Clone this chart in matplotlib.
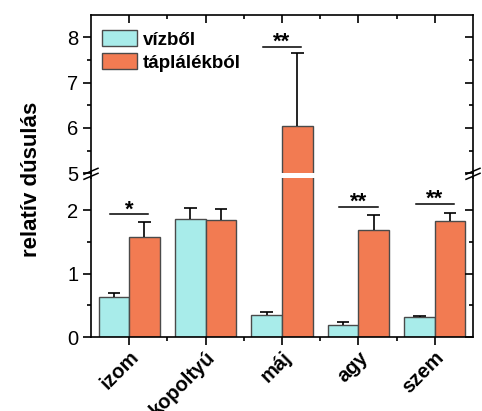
import matplotlib
matplotlib.use("Agg")
import matplotlib.pyplot as plt
import matplotlib.transforms as mtransforms
import numpy as np
from matplotlib.patches import Patch

plt.rcParams["font.family"] = ["Liberation Sans", "DejaVu Sans"]

tissues = ["izom", "kopoltyú", "máj", "agy", "szem"]
water_mean = [0.63, 1.86, 0.34, 0.185, 0.32]
water_err = [0.06, 0.18, 0.05, 0.055, 0.015]
food_mean = [1.575, 1.84, 6.05, 1.69, 1.82]
food_err = [0.23, 0.18, 1.61, 0.23, 0.13]

# significance markers: tissue index, bracket height, label
sig_idx = [0, 2, 3, 4]
sig_y = [1.93, 7.79, 2.05, 2.10]
sig_txt = ["*", "**", "**", "**"]

C_WATER = "#a8ecea"
C_FOOD = "#f27b52"
EDGE = "#4a4a4a"
LW = 1.2

W, H = 482, 411
fig = plt.figure(figsize=(W / 100, H / 100), dpi=100)
left, right = 91 / W, 473 / W
ax_hi = fig.add_axes([left, 1 - 173.3 / H, right - left, (173.3 - 15) / H])
ax_lo = fig.add_axes([left, 1 - 337 / H, right - left, (337 - 178.3) / H])

x = np.arange(1, len(tissues) + 1)
bw = 0.4
cap = 0.083
for ax in (ax_hi, ax_lo):
    ax.bar(x - bw / 2, water_mean, bw, color=C_WATER, edgecolor=EDGE, lw=1.0, zorder=2)
    ax.bar(x + bw / 2, food_mean, bw, color=C_FOOD, edgecolor=EDGE, lw=1.0, zorder=2)
    # upper error bars only
    for xs, m, e in ((x - bw / 2, water_mean, water_err), (x + bw / 2, food_mean, food_err)):
        m, e = np.asarray(m), np.asarray(e)
        ax.vlines(xs, m, m + e, color="k", lw=1.2, zorder=3)
        ax.hlines(m + e, xs - cap, xs + cap, color="k", lw=1.2, zorder=3)
    ax.set_xlim(0.5, 5.5)
    for s in ax.spines.values():
        s.set_linewidth(LW)
    ax.set_xticks(x)
    ax.set_xticks(x[:-1] + 0.5, minor=True)

ax_hi.set_ylim(5, 8.49)
ax_lo.set_ylim(0, 2.5)
hi_major, hi_minor = [5, 6, 7, 8], [5.5, 6.5, 7.5]
lo_major, lo_minor = [0, 1, 2], [0.5, 1.5]

for ax, major, minor in ((ax_hi, hi_major, hi_minor), (ax_lo, lo_major, lo_minor)):
    ax.set_yticks(major)
    ax.set_yticks(minor, minor=True)
    ax.tick_params(axis="y", which="both", direction="out", width=LW, labelsize=14.5, pad=3)
    ax.tick_params(axis="y", which="major", length=6)
    ax.tick_params(axis="y", which="minor", length=3)
    # inward ticks on the right side
    tw = ax.twinx()
    tw.set_ylim(ax.get_ylim())
    tw.set_yticks(major)
    tw.set_yticks(minor, minor=True)
    tw.tick_params(axis="y", which="both", direction="in", width=LW, labelright=False)
    tw.tick_params(axis="y", which="major", length=6)
    tw.tick_params(axis="y", which="minor", length=3)
    for s in tw.spines.values():
        s.set_visible(False)

ax_hi.spines["bottom"].set_visible(False)
ax_lo.spines["top"].set_visible(False)
ax_hi.tick_params(axis="x", which="both", bottom=False, labelbottom=False,
                  top=True, direction="in", width=LW)
ax_hi.tick_params(axis="x", which="major", length=6)
ax_hi.tick_params(axis="x", which="minor", length=3)
ax_lo.tick_params(axis="x", which="both", top=False, direction="out", width=LW)
ax_lo.tick_params(axis="x", which="major", length=6, pad=2)
ax_lo.tick_params(axis="x", which="minor", length=3)
ax_lo.set_xticklabels(tissues, rotation=45, ha="right", va="top",
                      rotation_mode="anchor", fontsize=14.5, fontweight="bold")
shift = mtransforms.ScaledTranslation(0, 0.5 / 100, fig.dpi_scale_trans)
for lab in ax_lo.get_xticklabels():
    lab.set_transform(lab.get_transform() + shift)

# significance brackets
star_off = mtransforms.ScaledTranslation(0, -1 / 100, fig.dpi_scale_trans)
for i, yv, txt in zip(sig_idx, sig_y, sig_txt):
    ax = ax_hi if yv > 5 else ax_lo
    xc = x[i]
    ax.plot([xc - 0.25, xc + 0.25], [yv, yv], color="k", lw=1.1, zorder=4)
    ax.text(xc, yv, txt, ha="center", va="baseline", fontsize=16, fontweight="bold",
            transform=ax.transData + star_off)

# axis break: connect the spines across the gap and mark it with slashes
y_top = 1 - 173.3 / H
y_bot = 1 - 178.3 / H
for xs in (left, right):
    fig.add_artist(plt.Line2D([xs, xs], [y_bot, y_top], color="k", lw=LW))
    for dy in (2 / H, -3 / H):
        fig.add_artist(plt.Line2D([xs - 7 / W, xs + 7 / W],
                                  [y_top - 3 / H + dy, y_top + 3 / H + dy],
                                  color="k", lw=1.1))

handles = [Patch(facecolor=C_WATER, edgecolor=EDGE, lw=1.0, label="vízből"),
           Patch(facecolor=C_FOOD, edgecolor=EDGE, lw=1.0, label="táplálékból")]
ax_hi.legend(handles=handles, loc="upper left",
             bbox_to_anchor=((102 - 91) / 382, 1 - (30 - 15) / 158.3),
             frameon=False, handlelength=1.87, handleheight=0.95, handletextpad=0.3,
             labelspacing=0.25, borderaxespad=0, borderpad=0,
             prop={"size": 13.5, "weight": "bold"})

fig.text(32 / W, 1 - 179 / H, "relatív dúsulás", rotation=90, ha="center",
         va="center", fontsize=16, fontweight="bold")

fig.savefig("out.png", dpi=100)
